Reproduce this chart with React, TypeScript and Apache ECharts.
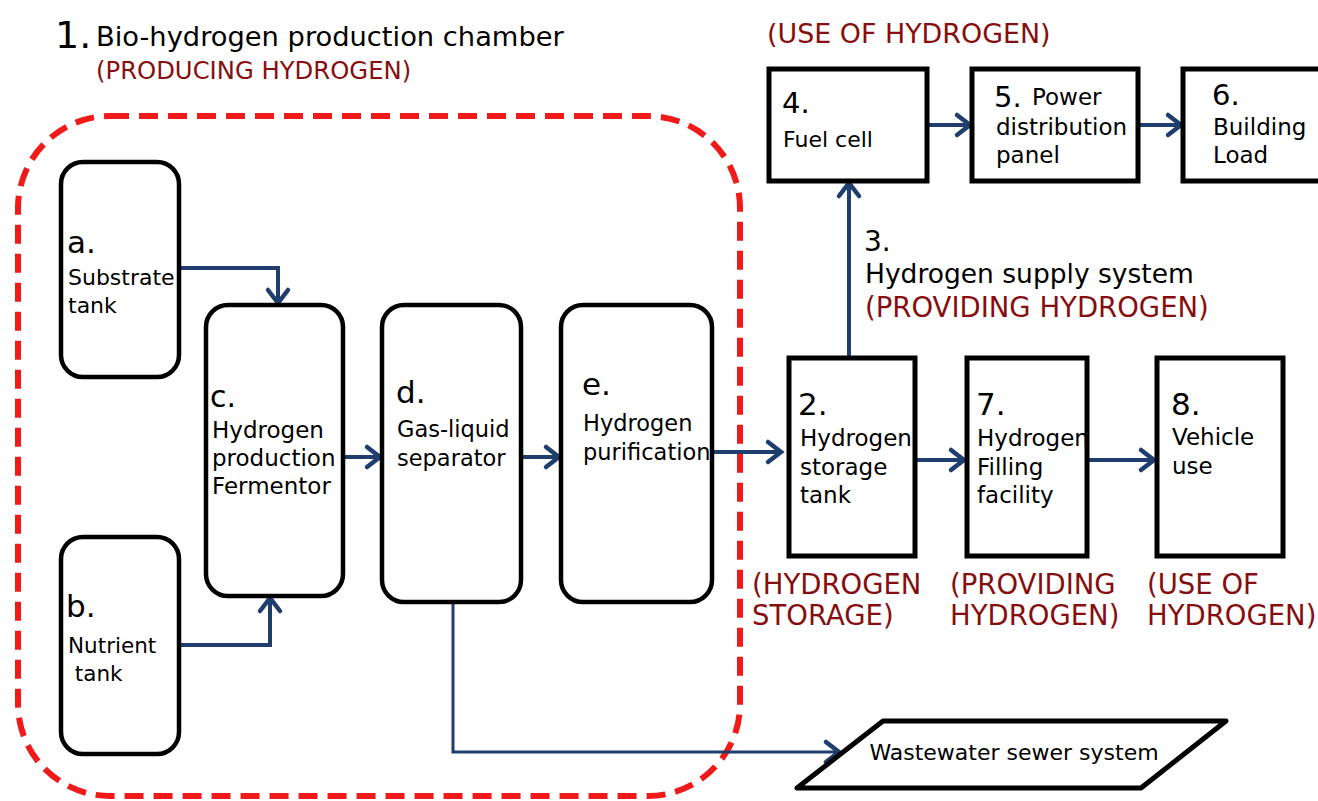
import React, { useEffect, useRef } from "react";
import * as echarts from "echarts";

// ---------- content ----------
const titleNumber = "1.";
const titleText = "Bio-hydrogen production chamber";
const titleRole = "(PRODUCING HYDROGEN)";
const useRoleTop = "(USE OF HYDROGEN)";
const supplyNumber = "3.";
const supplyText = "Hydrogen supply system";
const supplyRole = "(PROVIDING HYDROGEN)";

const roundedNodeIds = ["a", "b", "c", "d", "e"];
const roundedNodeNums = ["a.", "b.", "c.", "d.", "e."];
const roundedNodeLines = [
  ["Substrate", "tank"],
  ["Nutrient", " tank"],
  ["Hydrogen", "production", "Fermentor"],
  ["Gas-liquid", "separator"],
  ["Hydrogen", "purification"],
];

const squareNodeIds = ["n2", "n7", "n8", "n4", "n5", "n6"];
const squareNodeNums = ["2.", "7.", "8.", "4.", "5.", "6."];
const squareNodeLines = [
  ["Hydrogen", "storage", "tank"],
  ["Hydrogen", "Filling", "facility"],
  ["Vehicle", "use"],
  ["Fuel cell"],
  ["Power", "distribution", "panel"],
  ["Building", "Load"],
];

const bottomRoles = [
  ["(HYDROGEN", "STORAGE)"],
  ["(PROVIDING", "HYDROGEN)"],
  ["(USE OF", "HYDROGEN)"],
];

const sewerLabel = "Wastewater sewer system";

const edgeFrom = ["a", "b", "c", "d", "e", "n2", "n7", "n2", "n4", "n5", "d"];
const edgeTo = ["c", "c", "d", "e", "n2", "n7", "n8", "n4", "n5", "n6", "sewer"];

// ---------- layout ----------
// [x, y, w, h]
const roundedBoxes = [
  [61, 162, 118, 215],
  [61, 537, 118, 217],
  [206, 305, 137, 291],
  [382, 305, 139, 297],
  [561, 305, 151, 297],
];
// [numX, numY, textX, firstLineY, lineGap, numSize, textSize]
const roundedText = [
  [67, 242, 68, 277, 28, 31, 22],
  [66, 606, 68, 645, 28, 31, 21.5],
  [210, 396, 212, 430, 28, 30, 23],
  [396, 392, 397, 429, 28.5, 31, 22.5],
  [582, 384, 583, 423, 28.5, 31, 22.5],
];
const squareBoxes = [
  [789, 358, 126, 198],
  [967, 358, 120, 198],
  [1157, 358, 126, 198],
  [769, 69, 158, 112],
  [972, 69, 166, 112],
  [1183, 69, 140, 112],
];
// [numX, numY, textX, firstLineY, lineGap, inlineFirstX, numSize, textSize]
const squareText = [
  [798, 404, 800, 438, 28.5, 0, 31, 23],
  [976, 404, 977, 438, 28.5, 0, 31, 23],
  [1171, 404, 1172, 437, 28.5, 0, 31, 23],
  [782, 103, 783, 139, 28, 0, 29, 22],
  [994, 97, 996, 127, 28, 1032, 29, 23],
  [1212, 95, 1213, 127, 28, 0, 29, 23],
];
const bottomRoleX = [752, 950, 1147];
const bottomRoleTopY = 568;
const bottomRoleLineH = 31;

const sewerPolygon = [
  [883, 721],
  [1226, 721],
  [1141, 788],
  [797, 788],
];

const edgeRoutes = [
  [[179, 268], [278, 268], [278, 303]],
  [[179, 645], [270, 645], [270, 598]],
  [[343, 457], [380, 457]],
  [[521, 457], [559, 457]],
  [[712, 452], [781, 452]],
  [[915, 460], [964, 460]],
  [[1087, 460], [1154, 460]],
  [[849, 357], [849, 183]],
  [[927, 125], [970, 125]],
  [[1138, 125], [1181, 125]],
  [[453, 602], [453, 752], [839, 752]],
];
const edgeWidths = [4, 4, 4, 4, 4, 4, 4, 4, 4, 4, 3];

// ---------- style ----------
const FONT = '"DejaVu Sans", "Open Sans", sans-serif';
const BLACK = "#000000";
const DARKRED = "#860e0e";
const ARROW = "#1f3e6e";
const DASH_RED = "#f01a1a";

function txt(text: string, x: number, y: number, size: number, color = BLACK): any {
  return {
    type: "text",
    silent: true,
    style: {
      text,
      x,
      y,
      fill: color,
      font: `${size}px ${FONT}`,
      textAlign: "left",
      textVerticalAlign: "middle",
    },
  };
}

function block(lines: string[], x: number, firstY: number, gap: number, size: number, color = BLACK): any {
  return {
    type: "text",
    silent: true,
    style: {
      text: lines.join("\n"),
      x,
      y: firstY - gap / 2,
      fill: color,
      font: `${size}px ${FONT}`,
      lineHeight: gap,
      textAlign: "left",
      textVerticalAlign: "top",
    },
  };
}

function arrowElements(points: number[][], width: number): any[] {
  const n = points.length;
  const p = points[n - 1];
  const q = points[n - 2];
  const dx = p[0] - q[0];
  const dy = p[1] - q[1];
  const len = Math.sqrt(dx * dx + dy * dy) || 1;
  const ux = dx / len;
  const uy = dy / len;
  const L = 13;
  const W = 10;
  const left = [p[0] - ux * L - uy * W, p[1] - uy * L + ux * W];
  const right = [p[0] - ux * L + uy * W, p[1] - uy * L - ux * W];
  const tip = [p[0], p[1]];
  const shaft = points.slice(0, n - 1).concat([[p[0] - ux * 2, p[1] - uy * 2]]);
  return [
    {
      type: "polyline",
      silent: true,
      shape: { points: shaft },
      style: { stroke: ARROW, lineWidth: width, fill: null, lineJoin: "miter" },
    },
    {
      type: "polyline",
      silent: true,
      shape: { points: [left, tip, right] },
      style: { stroke: ARROW, lineWidth: 4.5, fill: null, lineJoin: "miter", lineCap: "round" },
    },
  ];
}

function buildGraphic(): any[] {
  const els: any[] = [];

  // dashed chamber boundary
  els.push({
    type: "rect",
    silent: true,
    shape: { x: 18, y: 116, width: 722, height: 680, r: 92 },
    style: { fill: null, stroke: DASH_RED, lineWidth: 6, lineDash: [19, 10] },
  });

  // titles
  els.push(txt(titleNumber, 55, 35, 38));
  els.push(txt(titleText, 96, 36, 27.3));
  els.push(txt(titleRole, 96, 70, 24.3, DARKRED));
  els.push(txt(useRoleTop, 767, 33, 26.9, DARKRED));
  els.push(txt(supplyNumber, 864, 241, 28));
  els.push(txt(supplyText, 865, 273, 26.5));
  els.push(txt(supplyRole, 865, 307, 27.5, DARKRED));

  // arrows
  edgeFrom.forEach((_, i) => {
    els.push(...arrowElements(edgeRoutes[i], edgeWidths[i]));
  });

  // rounded boxes
  roundedNodeIds.forEach((id, i) => {
    const [x, y, w, h] = roundedBoxes[i];
    els.push({
      type: "rect",
      silent: true,
      shape: { x, y, width: w, height: h, r: 22 },
      style: { fill: "rgba(255,255,255,0)", stroke: BLACK, lineWidth: 4.5 },
    });
    const [nx, ny, tx, ty, gap, ns, ts] = roundedText[i];
    els.push(txt(roundedNodeNums[i], nx, ny, ns));
    els.push(block(roundedNodeLines[i], tx, ty, gap, ts));
  });

  // square boxes
  squareNodeIds.forEach((id, i) => {
    const [x, y, w, h] = squareBoxes[i];
    els.push({
      type: "rect",
      silent: true,
      shape: { x, y, width: w, height: h },
      style: { fill: "rgba(255,255,255,0)", stroke: BLACK, lineWidth: 5 },
    });
    const [nx, ny, tx, ty, gap, inlineX, ns, ts] = squareText[i];
    els.push(txt(squareNodeNums[i], nx, ny, ns));
    let lines = squareNodeLines[i];
    if (inlineX) {
      els.push(txt(lines[0], inlineX, ny, ts));
      lines = lines.slice(1);
    }
    els.push(block(lines, tx, ty, gap, ts));
  });

  // bottom role labels
  bottomRoles.forEach((lines, i) => {
    els.push({
      type: "text",
      silent: true,
      style: {
        text: lines.join("\n"),
        x: bottomRoleX[i],
        y: bottomRoleTopY,
        fill: DARKRED,
        font: `27.5px ${FONT}`,
        lineHeight: bottomRoleLineH,
        textAlign: "left",
        textVerticalAlign: "top",
      },
    });
  });

  // sewer parallelogram
  els.push({
    type: "polygon",
    silent: true,
    shape: { points: sewerPolygon },
    style: { fill: "rgba(255,255,255,0)", stroke: BLACK, lineWidth: 5, lineJoin: "round" },
  });
  els.push({
    type: "text",
    silent: true,
    style: {
      text: sewerLabel,
      x: 1014,
      y: 752,
      fill: BLACK,
      font: `22px ${FONT}`,
      textAlign: "center",
      textVerticalAlign: "middle",
    },
  });

  return els;
}

export default function App() {
  const ref = useRef<HTMLDivElement>(null);
  useEffect(() => {
    if (!ref.current) return;
    const chart = echarts.init(ref.current, null, { renderer: "svg" });
    chart.setOption({
      animation: false,
      backgroundColor: "#ffffff",
      graphic: { elements: buildGraphic() },
    });
    return () => chart.dispose();
  }, []);
  return (
    <div
      ref={ref}
      style={{ position: "fixed", left: 0, top: 0, width: 1318, height: 801, background: "#fff" }}
    />
  );
}
